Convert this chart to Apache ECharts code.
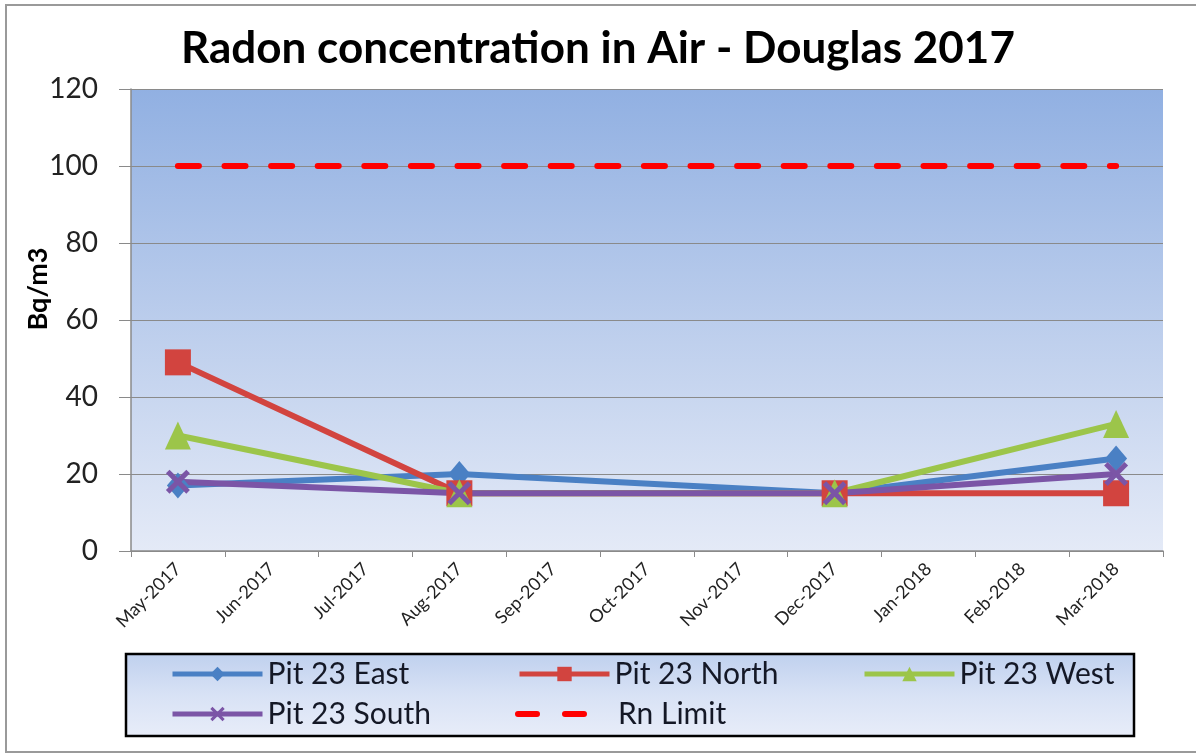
<!DOCTYPE html>
<html>
<head>
<meta charset="utf-8">
<script src="https://cdn.jsdelivr.net/npm/echarts@6/dist/echarts.min.js"></script>
<style>
html,body{margin:0;padding:0;background:#fff;}
#c{width:1196px;height:755px;}
</style>
</head>
<body>
<div id="c"></div>
<script>
const months = ['May-2017','Jun-2017','Jul-2017','Aug-2017','Sep-2017','Oct-2017','Nov-2017','Dec-2017','Jan-2018','Feb-2018','Mar-2018'];
const pit23East  = [17, null, null, 20, null, null, null, 15, null, null, 24];
const pit23North = [49, null, null, 15, null, null, null, 15, null, null, 15];
const pit23West  = [30, null, null, 15, null, null, null, 15, null, null, 33];
const pit23South = [18, null, null, 15, null, null, null, 15, null, null, 20];
const rnLimit    = [100, 100, 100, 100, 100, 100, 100, 100, 100, 100, 100];
const yTicks = [0, 20, 40, 60, 80, 100, 120];

const FONT = 'Lato, "Open Sans", sans-serif';
const xPath = 'path://M0,1.5 L1.5,0 L5,3.5 L8.5,0 L10,1.5 L6.5,5 L10,8.5 L8.5,10 L5,6.5 L1.5,10 L0,8.5 L3.5,5 Z';
const dashIcon = 'path://M3,0 L22,0 A3,3 0 0 1 22,6 L3,6 A3,3 0 0 1 3,0 Z M50,0 L69,0 A3,3 0 0 1 69,6 L50,6 A3,3 0 0 1 50,0 Z';

const chart = echarts.init(document.getElementById('c'), null, {renderer: 'canvas'});

function lineSeries(name, data, color, symbol, size) {
  return {
    name, type: 'line', data, connectNulls: true,
    symbol, symbolSize: size, showSymbol: true,
    lineStyle: {color, width: 6},
    itemStyle: {color},
    z: 3
  };
}

function legendAt(item, left, top, w, h, padLeft) {
  return {
    data: [item], left, top, padding: 0,
    itemWidth: w || 90, itemHeight: h || 18,
    lineStyle: {width: 5},
    itemStyle: {borderWidth: 0},
    textStyle: {fontFamily: FONT, fontSize: 30, color: '#141826', padding: [0, 0, 0, padLeft || 0]}
  };
}

const option = {
  backgroundColor: '#fff',
  animation: false,
  title: {
    text: 'Radon concentration in Air - Douglas 2017',
    left: 'center', top: 22,
    textStyle: {fontFamily: FONT, fontSize: 44, fontWeight: 'bold', color: '#000'}
  },
  graphic: [
    {type: 'rect', shape: {x: 6, y: 5, width: 1200, height: 747}, style: {fill: null, stroke: '#9a9a9a', lineWidth: 2}, z: -10, silent: true},
    {type: 'rect', shape: {x: 126, y: 654, width: 1008, height: 82},
      style: {fill: new echarts.graphic.LinearGradient(0,0,0,1,[{offset:0,color:'#bfd0ee'},{offset:0.5,color:'#d8e2f5'},{offset:1,color:'#e8edf9'}]), stroke: '#000', lineWidth: 2.5}, z: -5, silent: true},
    {type: 'text', x: 38, y: 289, rotation: Math.PI/2,
      style: {text: 'Bq/m3', fontFamily: FONT, fontSize: 27, fontWeight: 'bold', fill: '#000', align: 'center', verticalAlign: 'middle'}}
  ],
  grid: {
    left: 131, right: 33, top: 89, bottom: 204,
    show: true, borderWidth: 0,
    backgroundColor: new echarts.graphic.LinearGradient(0,0,0,1,[{offset:0,color:'#91b0e2'},{offset:0.5,color:'#bbcdec'},{offset:1,color:'#e4eaf7'}])
  },
  legend: [
    legendAt('Pit 23 East', 170, 659),
    legendAt('Pit 23 North', 517, 659),
    legendAt('Pit 23 West', 862, 659),
    legendAt('Pit 23 South', 170, 699),
    legendAt({name: 'Rn Limit', icon: dashIcon}, 515, 699, 72, 6, 26)
  ],
  xAxis: {
    type: 'category', data: months, boundaryGap: true,
    axisLine: {lineStyle: {color: '#8a8a8a', width: 1.5}},
    axisTick: {show: true, length: 6, lineStyle: {color: '#8a8a8a'}},
    axisLabel: {interval: 0, rotate: 45, margin: 15, fontFamily: FONT, fontSize: 18, color: '#222'},
    splitLine: {show: false}
  },
  yAxis: {
    type: 'value', min: 0, max: 120, interval: 20,
    axisLine: {show: true, lineStyle: {color: '#8a8a8a', width: 1.5}},
    axisTick: {show: true, length: 12, lineStyle: {color: '#8a8a8a'}},
    axisLabel: {margin: 33, fontFamily: FONT, fontSize: 28, color: '#222',
      formatter: v => yTicks.includes(v) ? String(v) : ''},
    splitLine: {show: true, lineStyle: {color: '#8a8a8a', width: 1}}
  },
  series: [
    lineSeries('Pit 23 East', pit23East, '#4a80c4', 'diamond', [22, 26]),
    lineSeries('Pit 23 North', pit23North, '#d2443f', 'rect', 26),
    lineSeries('Pit 23 West', pit23West, '#9cc54a', 'triangle', [26, 28]),
    lineSeries('Pit 23 South', pit23South, '#7b55a6', xPath, 24),
    {
      name: 'Rn Limit', type: 'line', data: rnLimit, symbol: 'none', showSymbol: false,
      lineStyle: {color: '#ff0000', width: 6, type: [21, 25.6], cap: 'round'},
      itemStyle: {color: '#ff0000'}, z: 2
    }
  ]
};
chart.setOption(option);
</script>
</body>
</html>
